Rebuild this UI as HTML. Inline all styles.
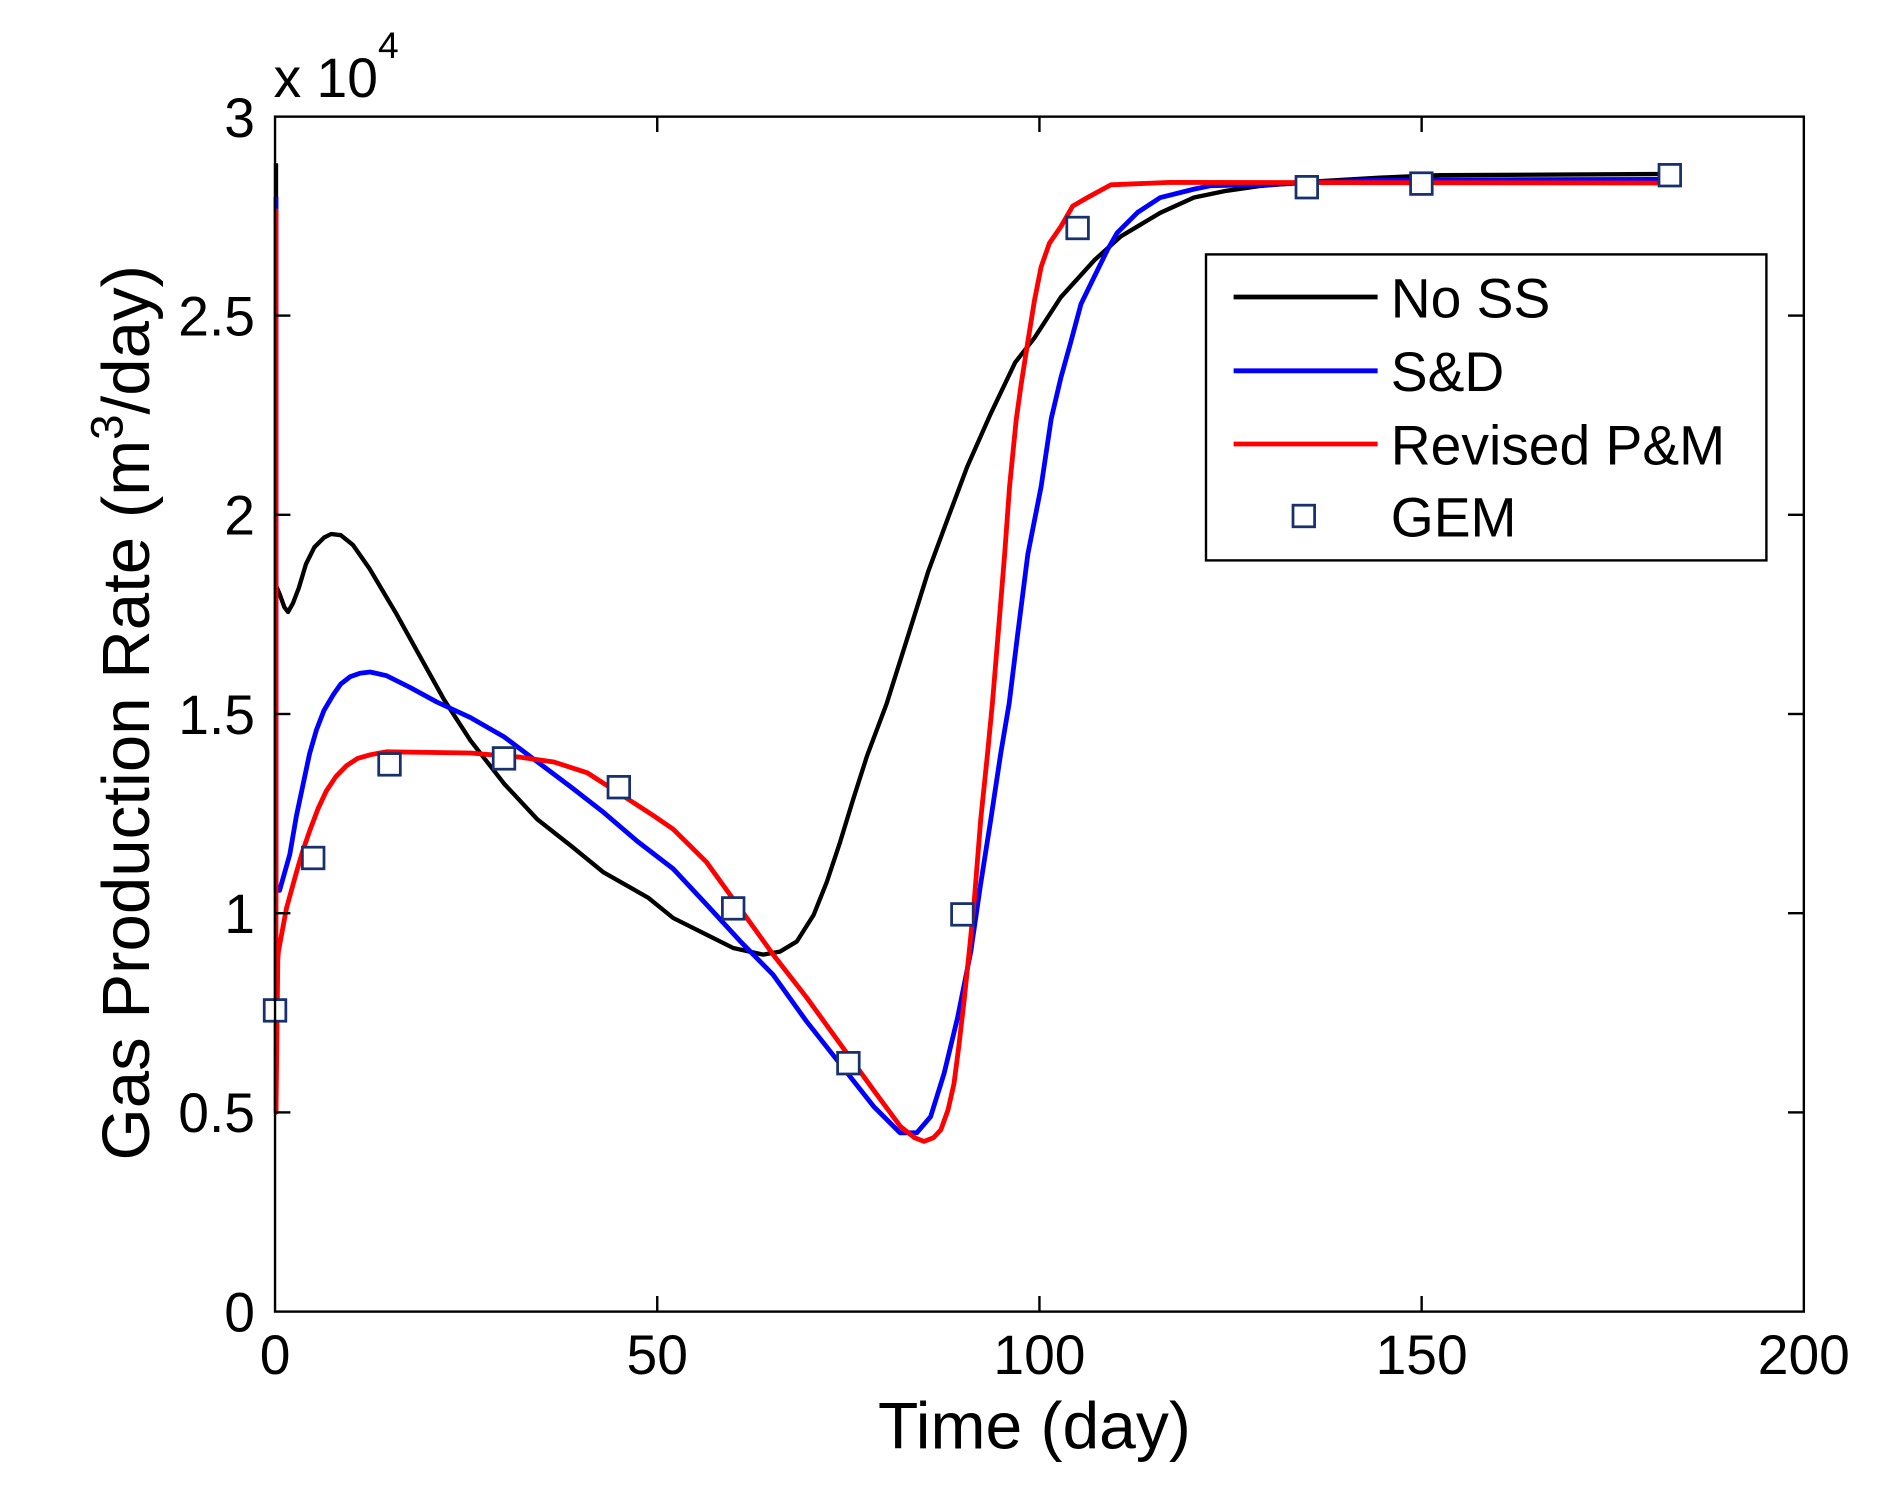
<!DOCTYPE html>
<html><head><meta charset="utf-8"><style>
html,body{margin:0;padding:0;background:#fff;}
svg{display:block;}
text{font-family:"Liberation Sans",Arial,sans-serif;fill:#000;}
</style></head><body>
<svg width="1881" height="1497" viewBox="0 0 1567.5 1247.5" xmlns="http://www.w3.org/2000/svg">
<rect x="0" y="0" width="1567.5" height="1247.5" fill="#fff"/>
<!-- curves -->
<g fill="none" stroke-linejoin="round" stroke-linecap="butt">
<path stroke="#000" stroke-width="3.6" d="M230,136 L230,488 L233,495 L237,506 L240,510 L244,503 L249,490 L255,470 L262,456 L270,448 L276,445 L284,446 L294,454 L308,474 L330,511 L350,547 L370,583 L392,617 L420,653 L448,683 L476,705 L503,727 L540,748 L561,765 L589,779 L611,790 L636,795.5 L650,793 L664,784.6 L678,762.5 L689,735 L700,702 L711,666 L722.5,630 L739,586 L757,529 L773.6,476 L791,429 L806,389 L825,346 L846,302 L862,281.6 L884,247.7 L912,216.8 L934,197 L967,177.3 L995,164.6 L1022,159 L1050,155 L1100,151 L1150,148 L1200,146 L1391,145"/>
<path stroke="#0000ff" stroke-width="4" d="M230,164 L230,742 L233,742 L241.5,712 L247,680 L252.7,653 L258,628 L263.8,608 L270,592 L277.7,579 L284,570 L291.7,564 L300,561 L308.4,560 L322,563 L342,573 L364,585 L392,598 L420,614 L448,635 L476,656 L503,677 L531,701 L561,724 L589,754 L617,784.5 L644,812 L672,851 L700,886.5 L728,922 L750,944 L764,944 L775.5,930.6 L786.7,894.7 L798,848 L809,793 L817,738 L825.7,682.6 L834,627.5 L841,586 L848,529 L856.5,462 L867.6,405.5 L876,349 L884,315 L892.5,284.4 L900.8,253.4 L911.8,230.8 L923,208 L931,194 L948,177 L967,164.6 L995,157.6 L1008.6,154.8 L1067,153.4 L1100,151.5 L1150,150 L1391,149.5"/>
<path stroke="#ff0000" stroke-width="4" d="M230,174 L230,927 L231.5,800 L232,793 L238.7,757 L247,727 L252,710 L258.2,692 L265,674 L272,659 L280,647 L288.9,638 L298,632 L308.4,629 L322,626.5 L392,627.5 L433.7,631 L461.6,635 L489.4,644 L517.3,662 L545,680 L561,691 L588.7,718.4 L616.6,757 L644.4,795.6 L672.3,831.4 L700.2,870 L728,908.5 L750.4,938.8 L762,948 L770,951.2 L778,948 L784,941.6 L790,925 L795,903 L799,872 L803.4,834 L808,790 L811.8,751.5 L817.3,682.6 L823,627.5 L827,586 L831.7,529.4 L837.2,461.8 L841.3,405.5 L846.9,349.2 L851,320 L856,288 L862,250.6 L867.6,222.4 L874.5,202.7 L884.2,188.6 L893.9,171.7 L906.3,164.6 L925.7,154 L975,152 L1391,152.5"/>
</g>
<!-- GEM markers -->
<g fill="#fff" stroke="#17306e" stroke-width="2.3">
<rect x="220.2" y="833" width="18" height="18"/>
<rect x="252" y="706" width="18" height="18"/>
<rect x="315.6" y="628" width="18" height="18"/>
<rect x="411" y="623" width="18" height="18"/>
<rect x="506.7" y="647" width="18" height="18"/>
<rect x="602" y="748" width="18" height="18"/>
<rect x="698" y="877" width="18" height="18"/>
<rect x="793" y="753" width="18" height="18"/>
<rect x="889" y="181" width="18" height="18"/>
<rect x="1080" y="147" width="18" height="18"/>
<rect x="1175.5" y="144" width="18" height="18"/>
<rect x="1382.5" y="137" width="18" height="18"/>
</g>
<!-- axes box -->
<rect x="229.2" y="97.2" width="1274" height="995.8" fill="none" stroke="#000" stroke-width="2"/>
<g stroke="#000" stroke-width="2">
<line x1="229.2" y1="927" x2="242" y2="927"/><line x1="1503.2" y1="927" x2="1490" y2="927"/>
<line x1="229.2" y1="761" x2="242" y2="761"/><line x1="1503.2" y1="761" x2="1490" y2="761"/>
<line x1="229.2" y1="595" x2="242" y2="595"/><line x1="1503.2" y1="595" x2="1490" y2="595"/>
<line x1="229.2" y1="429" x2="242" y2="429"/><line x1="1503.2" y1="429" x2="1490" y2="429"/>
<line x1="229.2" y1="263" x2="242" y2="263"/><line x1="1503.2" y1="263" x2="1490" y2="263"/>
<line x1="547.7" y1="1093" x2="547.7" y2="1080"/><line x1="547.7" y1="97.2" x2="547.7" y2="110"/>
<line x1="866.2" y1="1093" x2="866.2" y2="1080"/><line x1="866.2" y1="97.2" x2="866.2" y2="110"/>
<line x1="1184.7" y1="1093" x2="1184.7" y2="1080"/><line x1="1184.7" y1="97.2" x2="1184.7" y2="110"/>
</g>
<!-- y tick labels -->
<g font-size="46" text-anchor="end">
<text x="212.5" y="1109.5">0</text>
<text x="212.5" y="943.5">0.5</text>
<text x="212.5" y="777.5">1</text>
<text x="212.5" y="611.5">1.5</text>
<text x="212.5" y="445.5">2</text>
<text x="212.5" y="279.5">2.5</text>
<text x="212.5" y="114">3</text>
</g>
<!-- x tick labels -->
<g font-size="46" text-anchor="middle">
<text x="229.2" y="1145">0</text>
<text x="547.7" y="1145">50</text>
<text x="866.2" y="1145">100</text>
<text x="1184.7" y="1145">150</text>
<text x="1503.2" y="1145">200</text>
</g>
<!-- exponent -->
<text x="228" y="81" font-size="46">x 10</text>
<text x="315" y="48.5" font-size="31">4</text>
<!-- axis labels -->
<text x="862" y="1207" font-size="55" text-anchor="middle">Time (day)</text>
<text transform="translate(124,594) rotate(-90)" font-size="56" text-anchor="middle">Gas Production Rate (m<tspan font-size="38" dy="-22">3</tspan><tspan dy="22">/day)</tspan></text>
<!-- legend -->
<rect x="1005" y="212" width="467" height="255" fill="#fff" stroke="#000" stroke-width="2"/>
<g stroke-width="4">
<line x1="1028" y1="247.5" x2="1148" y2="247.5" stroke="#000"/>
<line x1="1028" y1="309" x2="1148" y2="309" stroke="#0000ff"/>
<line x1="1028" y1="370" x2="1148" y2="370" stroke="#ff0000"/>
</g>
<rect x="1077.5" y="421" width="18" height="18" fill="#fff" stroke="#17306e" stroke-width="2.3"/>
<g font-size="46">
<text x="1159" y="264.5">No SS</text>
<text x="1159" y="326">S&amp;D</text>
<text x="1159" y="387">Revised P&amp;M</text>
<text x="1159" y="447">GEM</text>
</g>
</svg>
</body></html>
